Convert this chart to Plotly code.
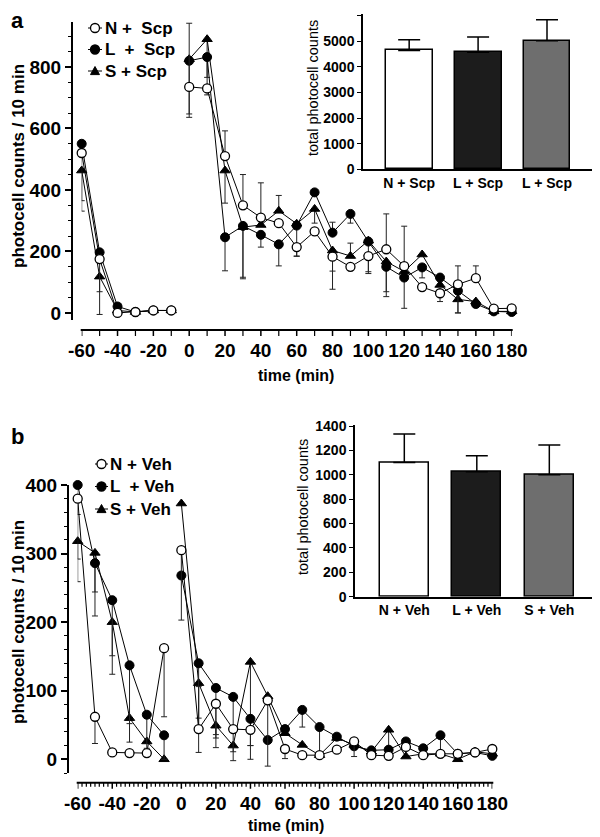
import numpy as np
import plotly.graph_objects as go

# ---------------- data ----------------
t_pre = [-60, -50, -40, -30, -20, -10]
t_post = [0, 10, 20, 30, 40, 50, 60, 70, 80, 90, 100, 110, 120, 130, 140, 150, 160, 170, 180]
time_ticks = [-60, -40, -20, 0, 20, 40, 60, 80, 100, 120, 140, 160, 180]
time_labels = ["-60", "-40", "-20", "0", "20", "40", "60", "80", "100", "120", "140", "160", "180"]

# panel a (scopolamine)
N_scp_pre = [520, 175, 0, 3, 8, 8]
N_scp_post = [735, 730, 510, 350, 310, 292, 214, 265, 183, 150, 185, 207, 152, 84, 64, 93, 113, 14, 15]
L_scp_pre = [550, 197, 21, 3, 8, 8]
L_scp_post = [820, 832, 246, 283, 254, 223, 284, 392, 261, 322, 232, 150, 115, 148, 115, 72, 29, 5, 3]
S_scp_pre = [463, 118, 8, 3, 8, 8]
S_scp_post = [825, 890, 463, 279, 286, 332, 290, 338, 203, 185, 235, 167, 135, 190, 91, 44, 37, 5, 5]

N_scp_pre_up = [0, 0, 0, 0, 0, 0]
N_scp_pre_dn = [155, 106, 0, 0, 0, 0]
L_scp_pre_up = [0, 0, 0, 0, 0, 0]
L_scp_pre_dn = [0, 0, 0, 0, 0, 0]
S_scp_pre_up = [0, 0, 0, 0, 0, 0]
S_scp_pre_dn = [132, 123, 0, 0, 0, 0]
N_scp_post_up = [207, 0, 82, 100, 113, 0, 0, 0, 0, 0, 0, 115, 130, 0, 0, 60, 40, 0, 0]
N_scp_post_dn = [99, 0, 0, 0, 0, 0, 30, 0, 106, 0, 51, 0, 0, 0, 27, 0, 0, 0, 0]
L_scp_post_up = [0, 0, 0, 0, 0, 0, 0, 0, 34, 0, 0, 0, 0, 0, 0, 0, 0, 0, 0]
L_scp_post_dn = [173, 66, 109, 167, 40, 70, 0, 0, 0, 30, 0, 97, 100, 34, 0, 72, 0, 0, 0]
S_scp_post_up = [0, 0, 0, 0, 0, 50, 0, 0, 0, 42, 0, 0, 0, 0, 0, 0, 0, 0, 0]
S_scp_post_dn = [0, 181, 106, 168, 0, 0, 105, 46, 67, 0, 107, 98, 0, 0, 0, 44, 0, 0, 0]

# panel b (vehicle)
N_veh_pre = [380, 62, 10, 9, 9, 162]
N_veh_post = [305, 44, 81, 44, 43, 86, 15, 6, 6, 14, 26, 6, 5, 18, 6, 8, 8, 10, 15]
L_veh_pre = [400, 286, 232, 137, 65, 35]
L_veh_post = [268, 140, 104, 91, 59, 28, 44, 72, 47, 33, 19, 13, 14, 26, 16, 35, 8, 10, 5]
S_veh_pre = [318, 301, 200, 60, 26, 0]
S_veh_post = [373, 111, 49, 20, 142, 92, 38, 21, 6, 31, 21, 11, 43, 4, 8, 8, 0, 11, 8]

N_veh_pre_up = [0, 0, 0, 0, 0, 0]
N_veh_pre_dn = [88, 39, 0, 0, 0, 100]
L_veh_pre_up = [0, 0, 0, 0, 0, 0]
L_veh_pre_dn = [43, 42, 108, 85, 49, 35]
S_veh_pre_up = [0, 0, 0, 0, 0, 0]
S_veh_pre_dn = [59, 92, 49, 35, 0, 0]
N_veh_post_up = [0, 62, 0, 0, 0, 0, 0, 0, 0, 0, 0, 0, 0, 0, 0, 0, 0, 0, 0]
N_veh_post_dn = [102, 0, 45, 0, 43, 96, 14, 0, 0, 0, 22, 0, 0, 0, 0, 0, 0, 0, 0]
L_veh_post_up = [0] * 19
L_veh_post_dn = [0, 80, 73, 80, 39, 0, 0, 25, 41, 0, 0, 0, 0, 0, 0, 27, 0, 0, 0]
S_veh_post_up = [0] * 19
S_veh_post_dn = [0, 101, 32, 22, 122, 0, 0, 0, 0, 0, 0, 0, 30, 0, 0, 0, 0, 0, 0]

# insets
cats_scp = ["N + Scp", "L + Scp", "L + Scp"]
total_scp = [4640, 4570, 5020]
sem_scp = [420, 590, 815]
cats_veh = ["N + Veh", "L + Veh", "S + Veh"]
total_veh = [1100, 1025, 1000]
sem_veh = [235, 132, 244]

legend_scp = ["N +  Scp", "L  +  Scp", "S + Scp"]
legend_veh = ["N + Veh", "L  + Veh", "S + Veh"]

# ---------------- helpers ----------------
OFF = 8                      # page body margin
W, H = 600 - OFF, 837 - OFF
def px(x):                   # page pixel -> paper fraction
    return (x - OFF) / W
def py(y):
    return 1 - (y - OFF) / H
def dom(a, b):
    return [max(0.0, min(1.0, a)), max(0.0, min(1.0, b))]

FONT = "Liberation Sans, Arial, sans-serif"

styles = {
    "N": dict(symbol="circle", size=9, color="white", line=dict(color="black", width=1.3)),
    "L": dict(symbol="circle", size=9, color="black", line=dict(color="black", width=1)),
    "S": dict(symbol="triangle-up", size=9, color="black", line=dict(color="black", width=1)),
}

fig = go.Figure()

def add_series(key, pre, post, pre_up, pre_dn, post_up, post_dn, xa, ya):
    for xs, ys, up, dn in [(t_pre, pre, pre_up, pre_dn), (t_post, post, post_up, post_dn)]:
        fig.add_trace(go.Scatter(
            x=xs, y=ys, mode="lines+markers", xaxis=xa, yaxis=ya,
            showlegend=False, cliponaxis=False,
            line=dict(color="black", width=1),
            marker=styles[key],
            error_y=dict(type="data", symmetric=False, array=up, arrayminus=dn,
                         color="#222", thickness=1, width=3),
        ))

# draw order S, L, N (N on top)
add_series("S", S_scp_pre, S_scp_post, S_scp_pre_up, S_scp_pre_dn, S_scp_post_up, S_scp_post_dn, "x", "y")
add_series("L", L_scp_pre, L_scp_post, L_scp_pre_up, L_scp_pre_dn, L_scp_post_up, L_scp_post_dn, "x", "y")
add_series("N", N_scp_pre, N_scp_post, N_scp_pre_up, N_scp_pre_dn, N_scp_post_up, N_scp_post_dn, "x", "y")

add_series("S", S_veh_pre, S_veh_post, S_veh_pre_up, S_veh_pre_dn, S_veh_post_up, S_veh_post_dn, "x2", "y2")
add_series("L", L_veh_pre, L_veh_post, L_veh_pre_up, L_veh_pre_dn, L_veh_post_up, L_veh_post_dn, "x2", "y2")
add_series("N", N_veh_pre, N_veh_post, N_veh_pre_up, N_veh_pre_dn, N_veh_post_up, N_veh_post_dn, "x2", "y2")

bar_fill = ["white", "#1c1c1c", "#6e6e6e"]

def add_bars(vals, errs, xa, ya):
    fig.add_trace(go.Bar(
        x=list(range(len(vals))), y=vals, xaxis=xa, yaxis=ya, showlegend=False,
        width=0.68,
        marker=dict(color=bar_fill, line=dict(color="black", width=1.5)),
        error_y=dict(type="data", symmetric=False, array=errs, arrayminus=[0] * len(errs),
                     color="black", thickness=1.5, width=11),
    ))

add_bars(total_scp, sem_scp, "x3", "y3")
add_bars(total_veh, sem_veh, "x4", "y4")

tick_font = dict(family=FONT, size=19, color="black", weight="bold")
inset_font = dict(family=FONT, size=14, color="black", weight="bold")

# x axes: labels from plotly, line + tick marks drawn as shapes below
main_x = dict(range=[-60, 180], tickmode="array", tickvals=time_ticks, ticktext=time_labels,
              tickangle=0, showline=False, automargin=False, anchor="free",
              ticks="outside", ticklen=3, tickcolor="rgba(0,0,0,0)",
              showgrid=False, zeroline=False, tickfont=tick_font)
main_y = dict(showline=True, linewidth=2, linecolor="black", ticks="outside", ticklen=6,
              tickwidth=1.5, tickcolor="black", showgrid=False, zeroline=False,
              tickfont=tick_font, anchor="free", automargin=False)
inset_common = dict(showline=True, linewidth=1.5, linecolor="black", showgrid=False,
                    zeroline=False, tickfont=inset_font, automargin=False)

fig.update_layout(
    template="none",
    width=W, height=H, margin=dict(l=0, r=0, t=0, b=0, pad=0, autoexpand=False),
    paper_bgcolor="white", plot_bgcolor="rgba(0,0,0,0)",
    font=dict(family=FONT, color="black", weight="bold"),
    bargap=0, showlegend=False,
    xaxis=dict(main_x, domain=dom(px(81.7), px(511.7)), position=py(330)),
    yaxis=dict(main_y, range=[-23, 947], tickmode="linear", tick0=0, dtick=200,
               domain=dom(py(320), py(21.7)), position=px(72),
               minor=dict(dtick=50, tick0=0, ticks="outside", ticklen=3, tickwidth=1.2, tickcolor="black")),
    xaxis2=dict(main_x, domain=dom(px(77.7), px(492.3)), position=py(782.7)),
    yaxis2=dict(main_y, range=[-20, 400], tickmode="linear", tick0=0, dtick=100,
                domain=dom(py(773), py(485)), position=px(68),
                minor=dict(dtick=20, tick0=0, ticks="outside", ticklen=3, tickwidth=1.2, tickcolor="black")),
    xaxis3=dict(inset_common, domain=dom(px(363), px(598)), range=[-0.67, 2.74], anchor="y3",
                tickmode="array", tickvals=list(range(len(cats_scp))), ticktext=cats_scp, tickangle=0,
                ticks=""),
    yaxis3=dict(inset_common, domain=dom(py(169.3), py(14.0)), range=[0, 6060], anchor="x3",
                tickmode="linear", tick0=0, dtick=1000,
                ticks="outside", ticklen=4, tickwidth=1.2, tickcolor="black"),
    xaxis4=dict(inset_common, domain=dom(px(355), px(595)), range=[-0.68, 2.63], anchor="y4",
                tickmode="array", tickvals=list(range(len(cats_veh))), ticktext=cats_veh, tickangle=0,
                ticks=""),
    yaxis4=dict(inset_common, domain=dom(py(596.7), py(424.8)), range=[0, 1410], anchor="x4",
                tickmode="linear", tick0=0, dtick=200,
                ticks="outside", ticklen=4, tickwidth=1.2, tickcolor="black"),
)

# ---- time axes: spine + tick marks (positions through the x scale) ----
def time_axis(xref, ypix, x0pix, x1pix, minor_step, minor_len):
    fig.add_shape(type="line", xref="paper", yref="paper", x0=px(x0pix), x1=px(x1pix),
                  y0=py(ypix), y1=py(ypix), line=dict(color="black", width=2))
    for t in np.arange(-60, 180 + 1e-9, minor_step):
        major = abs(t % 20) < 1e-9 or abs(t % 20 - 20) < 1e-9
        ln = 6 if major else minor_len
        fig.add_shape(type="line", xref=xref, yref="paper", x0=float(t), x1=float(t),
                      y0=py(ypix), y1=py(ypix + ln),
                      line=dict(color="black", width=1.5 if major else 1.2))

time_axis("x", 330, 80.7, 512.7, 10, 6)
time_axis("x2", 782.7, 76.7, 493.3, 2.5, 4)

def note(text, x, y, size, angle=0, weight="bold", xanchor="center"):
    fig.add_annotation(text=text, x=px(x), y=py(y), xref="paper", yref="paper",
                       showarrow=False, textangle=angle, xanchor=xanchor, yanchor="middle",
                       font=dict(family=FONT, size=size, color="black", weight=weight))

# ---- hand-drawn legends (paper coordinates) ----
def legend_key(key, label, xc, yc, x0, x1, xt):
    fig.add_shape(type="line", xref="paper", yref="paper", x0=px(x0), x1=px(x1), y0=py(yc), y1=py(yc),
                  line=dict(color="black", width=1))
    r = 4.5
    if key == "S":
        path = "M {:.5f} {:.5f} L {:.5f} {:.5f} L {:.5f} {:.5f} Z".format(
            px(xc - r), py(yc + r * 0.8), px(xc + r), py(yc + r * 0.8), px(xc), py(yc - r))
        fig.add_shape(type="path", xref="paper", yref="paper", path=path,
                      fillcolor="black", line=dict(color="black", width=1))
    else:
        fig.add_shape(type="circle", xref="paper", yref="paper",
                      x0=px(xc - r), x1=px(xc + r), y0=py(yc + r), y1=py(yc - r),
                      fillcolor=("white" if key == "N" else "black"),
                      line=dict(color="black", width=1.3))
    note(label, xt, yc, 17, xanchor="left")

for key, label, yc in zip(["N", "L", "S"], legend_scp, [28, 49.5, 71]):
    legend_key(key, label, 95, yc, 88, 102, 103)
for key, label, yc in zip(["N", "L", "S"], legend_veh, [464, 486.5, 509]):
    legend_key(key, label, 101.5, yc, 95, 108, 108)

note("a", 17, 21, 22)
note("b", 17, 436, 22)
note("photocell counts / 10 min", 18, 166, 17, -90)
note("photocell counts / 10 min", 18, 622, 17, -90)
note("time (min)", 296, 376, 16)
note("time (min)", 286, 825, 16)
note("total photocell counts", 313, 88, 14.5, -90, "normal")
note("total photocell counts", 303, 507, 14.5, -90, "normal")

fig.write_html("out.html")
